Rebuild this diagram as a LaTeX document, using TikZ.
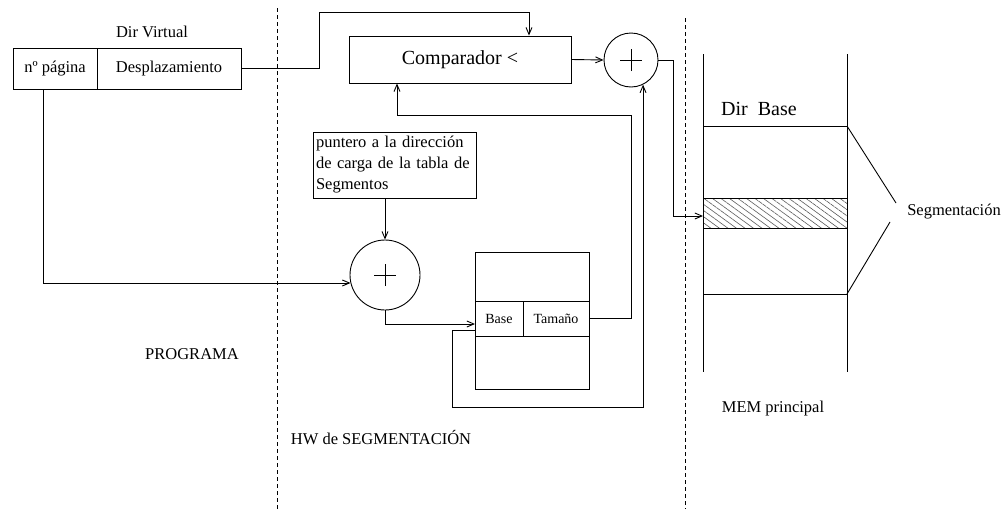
\documentclass[tikz,border=0pt]{standalone}
\usepackage{fontspec}
\setmainfont{Liberation Serif}
\usepackage{tikz}
\usetikzlibrary{arrows.meta, patterns.meta}

\tikzset{
  txt/.style={font=\fontsize{16.5}{21}\selectfont, inner sep=0pt},
  big/.style={font=\fontsize{20}{24}\selectfont, inner sep=0pt},
  cell/.style={draw, txt, anchor=center},
  sumnode/.style={draw, circle, inner sep=0pt,
    path picture={\draw (path picture bounding box.center) +(-11pt,0) -- +(11pt,0)
      (path picture bounding box.center) +(0,-11pt) -- +(0,11pt);}},
  divider/.style={dash pattern=on 4pt off 3pt, line width=0.8pt},
}

\begin{document}
\begin{tikzpicture}[x=1pt, y=-1pt, line width=0.9pt, >={Straight Barb[length=7pt,width=6pt]}]
\useasboundingbox (0,0) rectangle (1008,509);

% zonas
\draw[divider] (277,8) -- (277,509);
\draw[divider] (685,18) -- (685,509);
\node[txt] (prog) at (192,354) {PROGRAMA};
\node[txt] (hw) at (381,438) {HW de SEGMENTACIÓN};
\node[txt] (mem) at (773,409) {MEM principal};

% direccion virtual
\node[txt] (dirv) at (152,32) {Dir Virtual};
\node[cell, minimum width=84pt, minimum height=41pt] (pag) at (55,68.5) {nº página};
\node[cell, minimum width=144pt, minimum height=41pt] (desp) at (169,68.5) {Desplazamiento};

% hardware
\node[draw, big, minimum width=222pt, minimum height=47pt] (comp) at (460,59.5) {Comparador <};
\node[sumnode, minimum size=54pt] (sum2) at (631,60) {};
\node[draw, txt, minimum height=66pt, inner xsep=3pt, align=left,
  text width=157pt] (ptr) at (394.5,165)
  {puntero a la dirección\\de carga de la tabla de\\Segmentos};
\node[sumnode, minimum size=70pt] (sum1) at (385,275) {};

% tabla de segmentos
\draw (475,252) rectangle (589,389);
\node[cell, font=\fontsize{14}{17}\selectfont, minimum width=48pt, minimum height=35pt] (base) at (499,318.5) {Base};
\node[cell, font=\fontsize{14}{17}\selectfont, minimum width=66pt, minimum height=35pt] (tam) at (556,318.5) {Tamaño};
\coordinate (tin) at (475,324);
\coordinate (tret) at (475,330);

% memoria principal
\draw[pattern={Lines[angle=-36,distance=5pt,line width=0.6pt]}, pattern color=black!65]
  (703,198) rectangle (847,228);
\draw (703,54) -- (703,372) (847,54) -- (847,372);
\foreach \y in {126,198,228,294}
  \draw (703,\y) -- (847,\y);
\node[big] (dirb) at (759,109) {Dir\ \ Base};
\coordinate (entry) at (703,216);
\node[txt] (seg) at (954,212) {Segmentación};
\coordinate (segA) at (896,203);
\coordinate (segB) at (890,222);
\draw (847,126) -- (segA);
\draw (847,294) -- (segB);

% conexiones
\draw[->] (desp.east) -| (319,12) -| ([xshift=69pt]comp.north);
\draw[->] (comp.east) -- (sum2.west);
\draw[->] (sum2.east) -- ++(15,0) |- (entry);
\draw[->] ([xshift=-12pt]pag.south) |- (sum1.193);
\draw[->] (ptr.south -| sum1) -- (sum1);
\draw[->] (sum1.south) |- (tin);
\draw[->] (tam.east) -| (631,115) -| ([xshift=-63pt]comp.south);
\draw[->] (tret) -| (452,407) -| (sum2.-64);
\end{tikzpicture}
\end{document}
